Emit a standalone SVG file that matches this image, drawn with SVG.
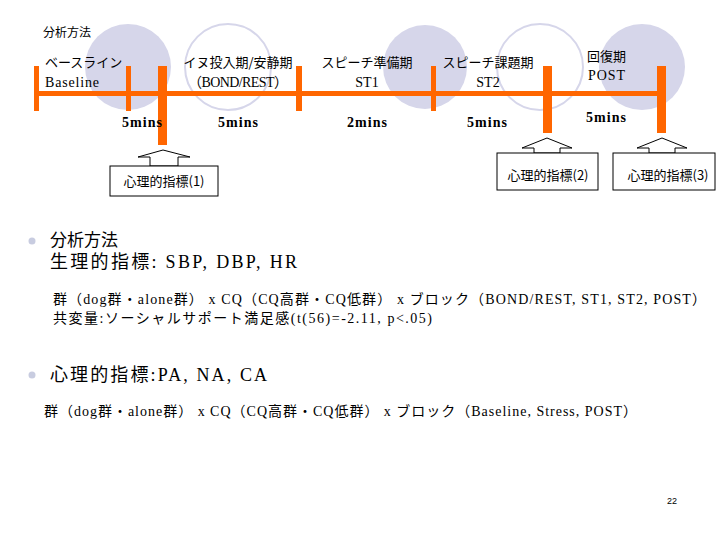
<svg xmlns="http://www.w3.org/2000/svg" width="720" height="540" viewBox="0 0 720 540">
<style>
.j{font-family:"Noto Sans CJK JP","Liberation Sans",sans-serif;fill:#000}
.s{font-family:"Liberation Serif","Noto Sans CJK JP",serif;fill:#000}
.m{font-family:"Liberation Serif",serif;font-weight:bold;font-size:14px;fill:#000}
.o{fill:#ff6600}
.box{fill:#fff;stroke:#000;stroke-width:1}
</style>
<rect width="720" height="540" fill="#fff"/>
<circle cx="128" cy="67" r="43" fill="#d6d6ea"/>
<circle cx="228" cy="67" r="43" fill="none" stroke="#d6d6ea" stroke-width="2"/>
<circle cx="425" cy="67" r="42" fill="#d6d6ea"/>
<circle cx="540" cy="67" r="43" fill="none" stroke="#d6d6ea" stroke-width="2"/>
<circle cx="642" cy="67" r="43" fill="#d6d6ea"/>
<text x="43" y="37" class="j" font-size="12">分析方法</text>
<g id="connectors">
<rect class="o" x="36" y="91" width="625" height="5"/>
<rect class="o" x="34" y="66" width="5" height="45"/>
<rect class="o" x="126" y="66" width="5" height="45"/>
<rect class="o" x="296" y="66" width="6" height="45"/>
<rect class="o" x="431" y="66" width="5" height="45"/>
<rect class="o" x="158" y="66" width="9" height="79"/>
<rect class="o" x="543" y="66" width="9" height="67"/>
<rect class="o" x="657" y="66" width="9" height="67"/>
</g>
<g id="labels">
<text x="45" y="67" class="j" font-size="13">ベースライン</text>
<text x="45" y="87" class="s" font-size="14" textLength="54">Baseline</text>
<text x="238" y="67" class="j" font-size="13" text-anchor="middle">イヌ投入期/安静期</text>
<text x="188" y="87" class="s" font-size="14" textLength="100">（BOND/REST）</text>
<text x="367" y="67" class="j" font-size="13" text-anchor="middle">スピーチ準備期</text>
<text x="367" y="87" class="s" font-size="14" text-anchor="middle">ST1</text>
<text x="488" y="67" class="j" font-size="13" text-anchor="middle">スピーチ課題期</text>
<text x="488" y="87" class="s" font-size="14" text-anchor="middle">ST2</text>
<text x="587" y="61" class="j" font-size="13">回復期</text>
<text x="588" y="80" class="s" font-size="14" textLength="37">POST</text>
<text x="122" y="127" class="m" textLength="40">5mins</text>
<text x="218" y="127" class="m" textLength="40">5mins</text>
<text x="347" y="127" class="m" textLength="40">2mins</text>
<text x="467" y="127" class="m" textLength="40">5mins</text>
<text x="586" y="122" class="m" textLength="40">5mins</text>
</g>
<g id="m1">
<polygon class="box" points="150,166 150,157 138,157 163,150 190,157 178,157 178,166"/>
<rect class="box" x="110" y="166" width="108" height="30"/>
<text x="164" y="186" class="j" font-size="13" text-anchor="middle">心理的指標(1)</text>
</g>
<g id="m2">
<polygon class="box" points="534,153 534,148 522,148 547,138 572,148 560,148 560,153"/>
<rect class="box" x="497" y="153" width="101" height="37"/>
<text x="548" y="180" class="j" font-size="13" text-anchor="middle">心理的指標(2)</text>
</g>
<g id="m3">
<polygon class="box" points="649,153 649,148 637,148 662,138 687,148 675,148 675,153"/>
<rect class="box" x="613" y="153" width="102" height="37"/>
<text x="668" y="180" class="j" font-size="13" text-anchor="middle">心理的指標(3)</text>
</g>
<circle cx="32" cy="241" r="3.5" fill="#c8cce0"/>
<text x="50" y="246" class="j" font-size="17">分析方法</text>
<text x="50" y="268" class="s" font-size="18" textLength="247">生理的指標: SBP, DBP, HR</text>
<text x="53" y="304" class="s" font-size="14" textLength="653">群（dog群・alone群） x  CQ（CQ高群・CQ低群） x  ブロック（BOND/REST, ST1, ST2, POST）</text>
<text x="53" y="323" class="s" font-size="14" textLength="379">共変量:ソーシャルサポート満足感(t(56)=-2.11, p&lt;.05)</text>
<circle cx="32" cy="375" r="3.5" fill="#c8cce0"/>
<text x="50" y="381" class="s" font-size="18" textLength="217">心理的指標:PA, NA, CA</text>
<text x="44" y="416" class="s" font-size="14" textLength="593">群（dog群・alone群） x  CQ（CQ高群・CQ低群） x  ブロック（Baseline, Stress, POST）</text>
<text x="677" y="504" font-family="Liberation Sans,sans-serif" font-size="9" text-anchor="end">22</text>
</svg>
